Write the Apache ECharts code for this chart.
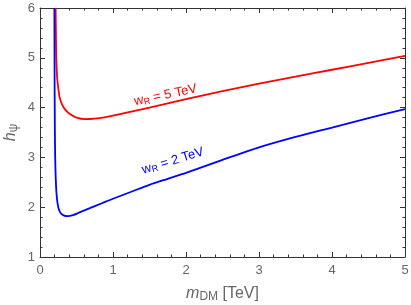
<!DOCTYPE html>
<html><head><meta charset="utf-8">
<script src="https://cdn.jsdelivr.net/npm/echarts@6/dist/echarts.min.js"></script>
<style>html,body{margin:0;padding:0;background:#fff}#c{width:411px;height:305px}</style>
</head><body><div id="c"></div>
<script>
const xTicks = [0, 1, 2, 3, 4, 5];
const yTicks = [1, 2, 3, 4, 5, 6];
const redX = [0.214,0.218,0.223,0.235,0.25,0.27,0.3,0.34,0.4,0.5,0.62,0.75,0.9,1.0,1.25,1.5,2.0,2.5,3.0,3.5,4.0,4.5,5.0];
const redY = [6.0,5.5,5.0,4.6,4.4,4.2,4.07,3.97,3.88,3.8,3.77,3.78,3.81,3.84,3.92,4.0,4.17,4.33,4.48,4.62,4.76,4.9,5.04];
const blueX = [0.197,0.199,0.201,0.204,0.208,0.215,0.225,0.24,0.26,0.29,0.33,0.38,0.45,0.55,0.7,0.85,1.0,1.25,1.5,1.75,2.0,2.5,3.0,3.5,4.0,4.5,5.0];
const blueY = [6.0,5.0,4.2,3.5,3.0,2.6,2.3,2.08,1.95,1.87,1.83,1.82,1.84,1.9,1.99,2.08,2.17,2.31,2.45,2.57,2.69,2.95,3.2,3.41,3.6,3.79,3.97];
const labels = [
  {name: 'red', text: '5', x: 1.72, y: 4.25, angle: 12, color: '#ff0000'},
  {name: 'blue', text: '2', x: 1.82, y: 2.93, angle: 17, color: '#0000ff'}
];
const zip = (a, b) => a.map((v, i) => [v, b[i]]);
const chart = echarts.init(document.getElementById('c'));
const frame = {lineStyle: {color: '#333', width: 1}};
const tickStyle = {inside: true, length: 5, lineStyle: {color: '#333', width: 1}};
const minorStyle = {show: true, splitNumber: 5, length: 2.5, lineStyle: {color: '#333', width: 1}};
const labelStyle = {color: '#666', fontSize: 13, fontFamily: 'Liberation Sans'};
function xAx(pos, show) {
  return {type: 'value', position: pos, min: xTicks[0], max: xTicks[xTicks.length-1], interval: 1,
    axisLine: {show: true, onZero: false, ...frame}, axisTick: tickStyle, minorTick: minorStyle,
    splitLine: {show: false}, axisLabel: {show: show, margin: 7, ...labelStyle}};
}
function yAx(pos, show) {
  return {type: 'value', position: pos, min: yTicks[0], max: yTicks[yTicks.length-1], interval: 1,
    axisLine: {show: true, onZero: false, ...frame}, axisTick: tickStyle, minorTick: minorStyle,
    splitLine: {show: false}, axisLabel: {show: show, margin: 5, ...labelStyle}};
}
const nameRich = {i: {fontStyle: 'italic', fontSize: 16, color: '#666', fontFamily: 'Liberation Sans'},
         s: {fontSize: 12, color: '#666', fontFamily: 'Liberation Sans', padding: [6, 0, 0, 0]}};
const xb = xAx('bottom', true);
xb.name = '{i|m}{s|DM} [TeV]';
xb.nameLocation = 'middle';
xb.nameGap = 28;
xb.nameMoveOverlap = false;
xb.nameTextStyle = {color: '#666', fontSize: 16, fontFamily: 'Liberation Sans', rich: nameRich};
const yl = yAx('left', true);
yl.name = '{i|h}{s|ψ}';
yl.nameLocation = 'middle';
yl.nameRotate = 90;
yl.nameGap = 20;
yl.nameMoveOverlap = false;
yl.nameTextStyle = {color: '#666', fontSize: 16, fontFamily: 'Liberation Sans', rich: nameRich};
chart.setOption({
  animation: false,
  grid: {left: 40, right: 6, top: 8, bottom: 48, containLabel: false, outerBoundsMode: 'none'},
  xAxis: [xb, xAx('top', false)],
  yAxis: [yl, yAx('right', false)],
  series: [
    {type: 'line', data: zip(redX, redY), showSymbol: false, smooth: 0.25, lineStyle: {color: '#ff0000', width: 1.8}, clip: true},
    {type: 'line', data: zip(blueX, blueY), showSymbol: false, smooth: 0.25, lineStyle: {color: '#0000ff', width: 1.8}, clip: true}
  ]
});
const g = labels.map(l => {
  const p = chart.convertToPixel({gridIndex: 0}, [l.x, l.y]);
  return {type: 'text', x: p[0], y: p[1], rotation: l.angle * Math.PI / 180,
    style: {text: 'w{s|R} = ' + l.text + ' TeV', fill: l.color, fontSize: 13, fontFamily: 'Liberation Sans',
      align: 'center', verticalAlign: 'middle',
      rich: {s: {fontSize: 9, fill: l.color, fontFamily: 'Liberation Sans', padding: [5, 0, 0, 0]}}}};
});
chart.setOption({graphic: g});
</script></body></html>
